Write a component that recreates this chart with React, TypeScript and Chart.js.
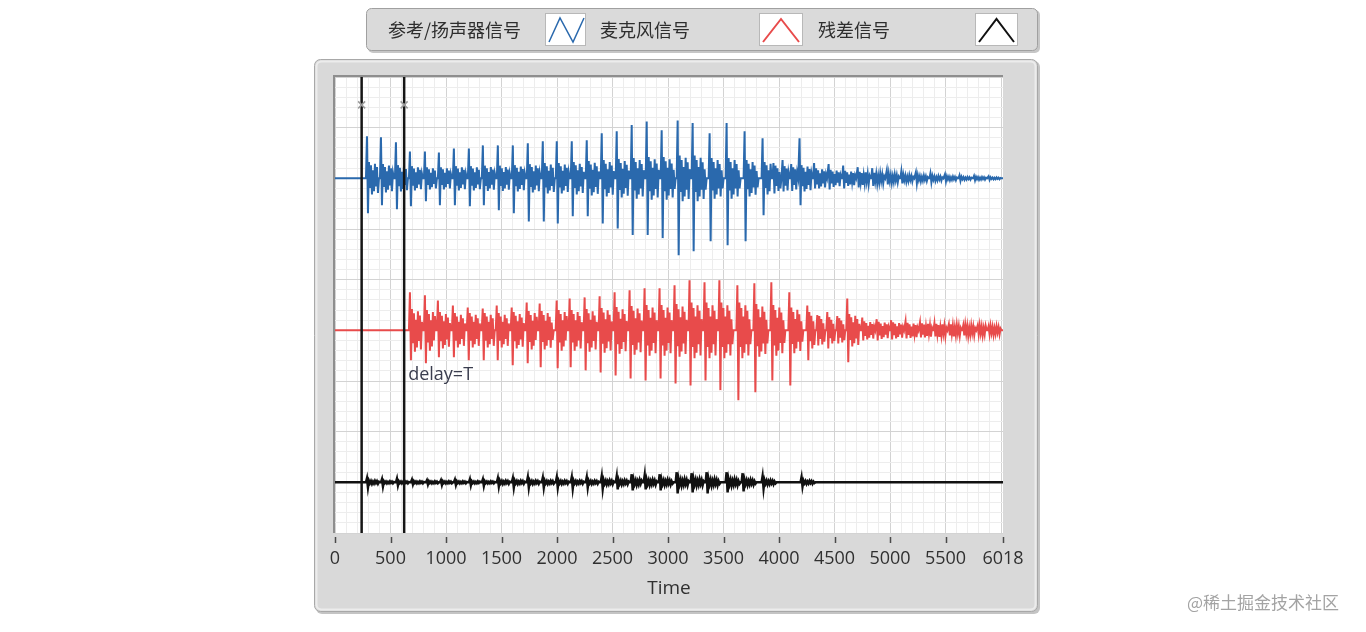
import React, { useEffect, useRef } from 'react';
import { Chart, registerables } from 'chart.js';

Chart.register(...registerables);

// ---------- data ----------
const SERIES_NAMES = ['参考/扬声器信号', '麦克风信号', '残差信号'];
const SERIES_COLORS = ['#2a69ad', '#e84b4b', '#111111'];
const TIME_MAX = 6018;
const X_LABEL_TICKS = [0, 500, 1000, 1500, 2000, 2500, 3000, 3500, 4000, 4500, 5000, 5500, 6018];
const X_TITLE = 'Time';
const CURSOR_TIMES = [240, 623];
const DELAY_LABEL = 'delay=T';
const WATERMARK = '@稀土掘金技术社区';

// plot offsets of the three stacked waveforms
const BLUE_OFFSET = 7;
const RED_OFFSET = 4;
const BLACK_OFFSET = 1;

// reference / speaker signal (blue): spike times, peak, trough, noise band
const BLUE_START = 240;
const BLUE_T = [288, 414, 549, 675, 810, 936, 1071, 1206, 1332, 1467, 1602, 1737, 1872, 1998, 2133, 2268, 2403, 2538, 2673, 2808, 2943, 3087, 3222, 3375, 3528, 3690, 3852, 3950, 4032, 4110, 4185, 4316, 4447, 4578, 4709, 4840, 4971, 5102, 5233, 5364, 5495, 5626, 5757, 5888];
const BLUE_HI = [0.83, 0.81, 0.71, 0.53, 0.53, 0.51, 0.59, 0.59, 0.65, 0.65, 0.65, 0.69, 0.73, 0.73, 0.73, 0.75, 0.89, 0.93, 1.05, 1.12, 0.95, 1.14, 1.09, 0.89, 1.09, 0.93, 0.79, 0.3, 0.36, 0.28, 0.79, 0.3, 0.28, 0.25, 0.22, 0.2, 0.16, 0.14, 0.12, 0.1, 0.08, 0.06, 0.05, 0.04];
const BLUE_LO = [0.69, 0.53, 0.61, 0.55, 0.45, 0.53, 0.53, 0.55, 0.53, 0.63, 0.69, 0.85, 0.85, 0.89, 0.75, 0.75, 0.89, 0.99, 1.12, 1.12, 1.18, 1.52, 1.44, 1.24, 1.32, 1.24, 0.73, 0.3, 0.26, 0.25, 0.53, 0.2, 0.22, 0.2, 0.18, 0.15, 0.12, 0.1, 0.1, 0.08, 0.06, 0.05, 0.04, 0.03];
const BLUE_BAND = [0.32, 0.28, 0.26, 0.24, 0.22, 0.22, 0.24, 0.24, 0.25, 0.25, 0.26, 0.28, 0.3, 0.3, 0.32, 0.34, 0.36, 0.38, 0.4, 0.42, 0.42, 0.45, 0.45, 0.4, 0.4, 0.36, 0.32, 0.25, 0.24, 0.22, 0.26, 0.2, 0.17, 0.15, 0.13, 0.11, 0.09, 0.07, 0.06, 0.05, 0.04, 0.03, 0.03, 0.02];

// microphone signal (red)
const RED_START = 623;
const RED_T = [675, 810, 927, 1062, 1196, 1331, 1457, 1592, 1727, 1844, 1997, 2114, 2249, 2384, 2519, 2654, 2789, 2924, 3059, 3194, 3329, 3463, 3625, 3778, 3931, 4093, 4255, 4345, 4435, 4525, 4615, 4750, 4880, 5010, 5140, 5270, 5400, 5530, 5660, 5790, 5888];
const RED_HI = [0.75, 0.69, 0.59, 0.49, 0.45, 0.43, 0.49, 0.45, 0.55, 0.53, 0.59, 0.63, 0.65, 0.67, 0.75, 0.79, 0.83, 0.83, 0.89, 0.99, 0.95, 0.99, 0.89, 0.93, 0.95, 0.75, 0.49, 0.3, 0.36, 0.28, 0.63, 0.25, 0.22, 0.2, 0.18, 0.16, 0.14, 0.12, 0.1, 0.1, 0.08];
const RED_LO = [0.59, 0.65, 0.53, 0.53, 0.59, 0.59, 0.59, 0.69, 0.65, 0.73, 0.75, 0.73, 0.79, 0.83, 0.89, 0.95, 0.99, 0.95, 1.05, 1.09, 0.99, 1.18, 1.38, 1.22, 0.99, 1.09, 0.59, 0.3, 0.36, 0.26, 0.63, 0.2, 0.2, 0.18, 0.16, 0.14, 0.12, 0.1, 0.1, 0.08, 0.08];
const RED_BAND = [0.42, 0.4, 0.36, 0.34, 0.34, 0.34, 0.34, 0.36, 0.38, 0.38, 0.4, 0.4, 0.42, 0.44, 0.46, 0.48, 0.5, 0.5, 0.52, 0.55, 0.55, 0.55, 0.55, 0.52, 0.5, 0.45, 0.36, 0.28, 0.26, 0.24, 0.32, 0.18, 0.17, 0.16, 0.15, 0.14, 0.13, 0.12, 0.11, 0.1, 0.09];

// residual signal (black)
const BLACK_START = 240;
const BLACK_T = [288, 423, 558, 693, 828, 954, 1080, 1215, 1332, 1467, 1602, 1737, 1872, 1998, 2133, 2268, 2403, 2538, 2673, 2790, 2925, 3078, 3213, 3348, 3528, 3672, 3852, 4203];
const BLACK_HI = [0.08, 0.06, 0.07, 0.05, 0.04, 0.04, 0.05, 0.06, 0.06, 0.08, 0.08, 0.1, 0.09, 0.1, 0.1, 0.1, 0.12, 0.12, 0.16, 0.14, 0.16, 0.2, 0.18, 0.2, 0.2, 0.18, 0.12, 0.1];
const BLACK_LO = [0.1, 0.08, 0.06, 0.04, 0.04, 0.05, 0.05, 0.06, 0.07, 0.08, 0.1, 0.1, 0.1, 0.1, 0.12, 0.1, 0.12, 0.14, 0.16, 0.14, 0.16, 0.22, 0.2, 0.22, 0.2, 0.18, 0.12, 0.08];
const BLACK_BAND = [0.03, 0.02, 0.02, 0.02, 0.02, 0.02, 0.02, 0.02, 0.02, 0.03, 0.03, 0.03, 0.03, 0.03, 0.03, 0.03, 0.04, 0.04, 0.05, 0.05, 0.05, 0.06, 0.06, 0.06, 0.06, 0.05, 0.04, 0.03];

// ---------- drawing helpers ----------
const STEP = 9; // time units per vertex (about one pixel)
// texture of the dense noise that follows each spike (relative to its band)
const RIPPLE_SHAPE = [1, -0.6, 0.8, -1, 0.5, -0.8, 0.9, -0.5, 0.7, -0.9, 0.4, -0.5];

function buildTrace(offset: number, start: number, t: number[], hi: number[], lo: number[], band: number[]) {
  const pts: { x: number; y: number }[] = [{ x: 0, y: offset }, { x: start, y: offset }];
  t.forEach((x, i) => {
    pts.push({ x: x - STEP, y: offset });
    pts.push({ x, y: offset + hi[i] });
    pts.push({ x: x + STEP, y: offset - lo[i] });
    const next = i + 1 < t.length ? t[i + 1] : TIME_MAX;
    let lastX = x + STEP;
    RIPPLE_SHAPE.forEach((m, k) => {
      const px = x + (k + 2) * STEP;
      if (px < next - 2 * STEP) {
        pts.push({ x: px, y: offset + m * band[i] });
        lastX = px;
      }
    });
    if (lastX + STEP < next - STEP) pts.push({ x: lastX + STEP, y: offset });
  });
  pts.push({ x: TIME_MAX, y: offset });
  return pts;
}

const LATIN = '"Segoe UI", "Open Sans", "Noto Sans", sans-serif';
const CJK = '"Noto Sans CJK SC", "Microsoft YaHei", sans-serif';

function rr(ctx: CanvasRenderingContext2D, x: number, y: number, w: number, h: number, r: number) {
  ctx.beginPath();
  ctx.moveTo(x + r, y);
  ctx.lineTo(x + w - r, y);
  ctx.arcTo(x + w, y, x + w, y + r, r);
  ctx.lineTo(x + w, y + h - r);
  ctx.arcTo(x + w, y + h, x + w - r, y + h, r);
  ctx.lineTo(x + r, y + h);
  ctx.arcTo(x, y + h, x, y + h - r, r);
  ctx.lineTo(x, y + r);
  ctx.arcTo(x, y, x + r, y, r);
  ctx.closePath();
}

const framePlugin = {
  id: 'labviewFrame',
  beforeDraw(chart: any) {
    const { ctx, chartArea: ca } = chart;
    ctx.save();
    ctx.fillStyle = '#ffffff';
    ctx.fillRect(0, 0, chart.width, chart.height);
    // outer panel shadow
    rr(ctx, 316, 61, 724, 553, 6);
    ctx.fillStyle = '#c4c4c4';
    ctx.fill();
    // outer panel
    rr(ctx, 314.5, 59.5, 723, 552, 6);
    ctx.fillStyle = '#d9d9d9';
    ctx.fill();
    ctx.strokeStyle = '#a8a8a8';
    ctx.lineWidth = 1;
    ctx.stroke();
    rr(ctx, 316.5, 61.5, 719, 548, 5);
    ctx.strokeStyle = '#ececec';
    ctx.lineWidth = 2;
    ctx.stroke();
    // legend box
    rr(ctx, 368, 10, 672, 43, 5);
    ctx.fillStyle = '#c6c6c6';
    ctx.fill();
    rr(ctx, 366.5, 8.5, 671, 42, 5);
    ctx.fillStyle = '#dadada';
    ctx.fill();
    ctx.strokeStyle = '#a0a0a0';
    ctx.lineWidth = 1;
    ctx.stroke();
    // plot background
    ctx.fillStyle = '#ffffff';
    ctx.fillRect(ca.left, ca.top, ca.right - ca.left, ca.bottom - ca.top);
    ctx.restore();
  },
  afterDatasetsDraw(chart: any) {
    const { ctx, chartArea: ca, scales } = chart;
    const xs = scales.x;
    const ys = scales.y;
    ctx.save();
    // cursors
    CURSOR_TIMES.forEach((t) => {
      const px = xs.getPixelForValue(t);
      ctx.strokeStyle = '#151515';
      ctx.lineWidth = 2.5;
      ctx.beginPath();
      ctx.moveTo(px, ca.top);
      ctx.lineTo(px, ca.bottom);
      ctx.stroke();
      const py = ys.getPixelForValue(8.45);
      ctx.strokeStyle = '#9a9a9a';
      ctx.lineWidth = 1.5;
      ctx.beginPath();
      ctx.moveTo(px - 3.5, py - 3.5);
      ctx.lineTo(px + 3.5, py + 3.5);
      ctx.moveTo(px + 3.5, py - 3.5);
      ctx.lineTo(px - 3.5, py + 3.5);
      ctx.stroke();
    });
    // delay label
    ctx.fillStyle = '#3a3d4e';
    ctx.font = `18px ${LATIN}`;
    ctx.textAlign = 'left';
    ctx.textBaseline = 'middle';
    ctx.fillText(DELAY_LABEL, xs.getPixelForValue(CURSOR_TIMES[1]) + 4, ys.getPixelForValue(3.12));
    // plot frame (top & left)
    ctx.strokeStyle = '#8e8e8e';
    ctx.lineWidth = 2;
    ctx.beginPath();
    ctx.moveTo(ca.left - 1, ca.bottom);
    ctx.lineTo(ca.left - 1, ca.top - 1);
    ctx.lineTo(ca.right, ca.top - 1);
    ctx.stroke();
    ctx.restore();
  },
  afterDraw(chart: any) {
    const { ctx, chartArea: ca, scales } = chart;
    const xs = scales.x;
    ctx.save();
    // x tick marks
    ctx.strokeStyle = '#4a4a4a';
    ctx.lineWidth = 1.5;
    X_LABEL_TICKS.forEach((v) => {
      const px = Math.round(xs.getPixelForValue(v)) + 0.5;
      ctx.beginPath();
      ctx.moveTo(px, ca.bottom + 4);
      ctx.lineTo(px, ca.bottom + 10);
      ctx.stroke();
    });
    // legend
    const textX = [388, 600, 818];
    const boxX = [545, 759, 975];
    const boxW = [41, 44, 43];
    ctx.font = `18px ${CJK}`;
    ctx.textAlign = 'left';
    ctx.textBaseline = 'middle';
    SERIES_NAMES.forEach((name, i) => {
      ctx.fillStyle = '#2e2e2e';
      ctx.fillText(name, textX[i], 30);
      ctx.fillStyle = '#ffffff';
      ctx.fillRect(boxX[i], 13, boxW[i], 33);
      ctx.strokeStyle = '#b8b8b8';
      ctx.lineWidth = 1;
      ctx.strokeRect(boxX[i] + 0.5, 13.5, boxW[i] - 1, 32);
      ctx.strokeStyle = SERIES_COLORS[i];
      ctx.lineWidth = i === 0 ? 1.5 : 2;
      ctx.lineJoin = 'miter';
      ctx.beginPath();
      const bx = boxX[i];
      if (i === 0) {
        ctx.moveTo(bx + 4, 42);
        ctx.lineTo(bx + 15, 18);
        ctx.lineTo(bx + 28, 42);
        ctx.lineTo(bx + 39, 18);
      } else {
        ctx.moveTo(bx + 4, 42);
        ctx.lineTo(bx + boxW[i] / 2, 19);
        ctx.lineTo(bx + boxW[i] - 4, 42);
      }
      ctx.stroke();
    });
    // watermark
    ctx.fillStyle = '#a3a3a3';
    ctx.font = `17px ${CJK}`;
    ctx.fillText(WATERMARK, 1187, 603);
    ctx.restore();
  },
};

const X_GRID_STEP = 100;
const Y_GRID_STEP = 0.2;
const Y_MAX = 9;

export default function App() {
  const ref = useRef<HTMLCanvasElement | null>(null);
  useEffect(() => {
    if (!ref.current) return;
    const chart = new Chart(ref.current, {
      type: 'line',
      data: {
        datasets: [
          { label: SERIES_NAMES[0], data: buildTrace(BLUE_OFFSET, BLUE_START, BLUE_T, BLUE_HI, BLUE_LO, BLUE_BAND), borderColor: SERIES_COLORS[0], borderWidth: 2 },
          { label: SERIES_NAMES[1], data: buildTrace(RED_OFFSET, RED_START, RED_T, RED_HI, RED_LO, RED_BAND), borderColor: SERIES_COLORS[1], borderWidth: 2 },
          { label: SERIES_NAMES[2], data: buildTrace(BLACK_OFFSET, BLACK_START, BLACK_T, BLACK_HI, BLACK_LO, BLACK_BAND), borderColor: SERIES_COLORS[2], borderWidth: 2.5 },
        ],
      },
      options: {
        animation: false,
        responsive: false,
        devicePixelRatio: 1,
        layout: { padding: { left: 335, right: 363, top: 77, bottom: 19 } },
        elements: { point: { radius: 0 }, line: { tension: 0, fill: false } },
        plugins: { legend: { display: false }, tooltip: { enabled: false } },
        scales: {
          x: {
            type: 'linear',
            min: 0,
            max: TIME_MAX,
            afterBuildTicks: (s: any) => {
              const t: { value: number }[] = [];
              for (let v = 0; v <= 6000; v += X_GRID_STEP) t.push({ value: v });
              t.push({ value: TIME_MAX });
              s.ticks = t;
            },
            afterFit: (s: any) => {
              s.height = 80;
            },
            ticks: {
              autoSkip: false,
              maxRotation: 0,
              minRotation: 0,
              padding: 15,
              color: '#303030',
              font: { size: 18, family: LATIN },
              callback: (v: any) => (X_LABEL_TICKS.includes(Number(v)) ? String(v) : ''),
            },
            grid: {
              drawTicks: false,
              lineWidth: 1,
              color: (c: any) => {
                const v = c.tick ? c.tick.value : 0;
                if (v === TIME_MAX) return 'rgba(0,0,0,0)';
                return v % 500 === 0 ? '#d3d3d3' : '#ededed';
              },
            },
            border: { display: false },
            title: { display: true, text: X_TITLE, color: '#303030', font: { size: 19, family: LATIN }, padding: { top: 0, bottom: 13 } },
          },
          y: {
            type: 'linear',
            min: 0,
            max: Y_MAX,
            afterBuildTicks: (s: any) => {
              const t: { value: number }[] = [];
              for (let k = 0; k <= Math.round(Y_MAX / Y_GRID_STEP); k++) t.push({ value: Math.round(k * Y_GRID_STEP * 10) / 10 });
              s.ticks = t;
            },
            afterFit: (s: any) => {
              s.width = 0;
            },
            ticks: { display: false },
            grid: {
              drawTicks: false,
              lineWidth: 1,
              color: (c: any) => {
                const v = c.tick ? c.tick.value : 0;
                return Math.abs(v - Math.round(v)) < 1e-6 ? '#d3d3d3' : '#ededed';
              },
            },
            border: { display: false },
          },
        },
      },
      plugins: [framePlugin],
    } as any);
    return () => chart.destroy();
  }, []);
  return (
    <div style={{ position: 'fixed', left: 0, top: 0, width: 1366, height: 632 }}>
      <canvas ref={ref} width={1366} height={632} style={{ width: 1366, height: 632, display: 'block' }} />
    </div>
  );
}
